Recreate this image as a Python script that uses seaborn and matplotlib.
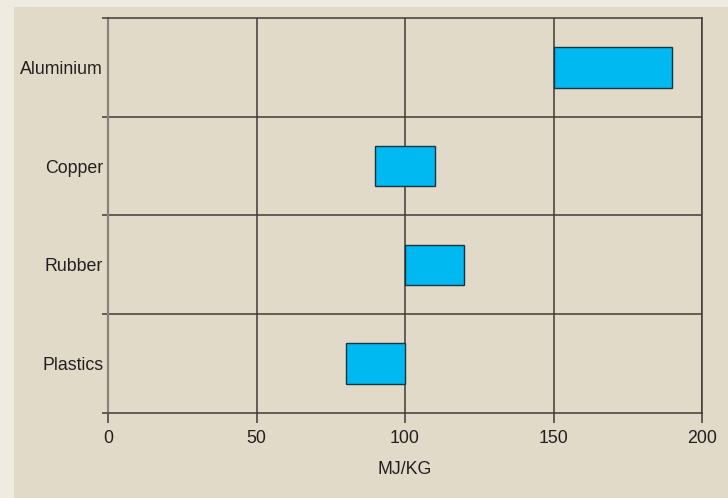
import matplotlib
matplotlib.use("Agg")
import matplotlib.pyplot as plt
from matplotlib.patches import Rectangle
from matplotlib.ticker import FixedLocator
import numpy as np
import pandas as pd
import seaborn as sns

# Energy range per material (MJ/kg)
materials = ["Aluminium", "Copper", "Rubber", "Plastics"]
range_low = [150, 90, 100, 80]
range_high = [190, 110, 120, 100]
x_ticks = [0, 50, 100, 150, 200]

sns.set_theme(style="white")
plt.rcParams["font.family"] = ["Liberation Sans", "DejaVu Sans"]

outer_bg = "#efebe1"
panel_bg = "#e1dac8"
line_col = "#3f3a36"
text_col = "#231f20"

df = pd.DataFrame({
    "material": materials,
    "low": range_low,
    "span": np.array(range_high) - np.array(range_low),
})

fig = plt.figure(figsize=(7.28, 4.98), dpi=100, facecolor=outer_bg)
fig.patches.append(Rectangle((14 / 728, 0), 1, (498 - 7) / 498,
                             transform=fig.transFigure, facecolor=panel_bg,
                             edgecolor="none", zorder=-10))
ax = fig.add_axes([108 / 728, 85 / 498, 594 / 728, 395 / 498])
ax.set_facecolor(panel_bg)

sns.barplot(data=df, x="span", y="material", orient="h", ax=ax,
            left=df["low"].values, color="#00b9f0", saturation=1,
            width=0.41, edgecolor="#1d3440", linewidth=1.0, zorder=3)

ax.set_xlim(0, 200)
ax.set_ylim(3.5, -0.5)
ax.xaxis.set_major_locator(FixedLocator(x_ticks))
ax.set_xticklabels([str(v) for v in x_ticks])

# Category labels centred in each band, ticks on band boundaries
ax.set_yticks(range(len(materials)))
ax.set_yticklabels(materials)
ax.yaxis.set_minor_locator(FixedLocator(np.arange(-0.5, len(materials), 1.0)))

ax.tick_params(axis="x", which="major", length=7, width=1.1, color=line_col,
               labelsize=12.8, labelcolor=text_col, pad=5, direction="out",
               bottom=True)
ax.tick_params(axis="y", which="major", length=0, labelsize=12.8,
               labelcolor=text_col, pad=3.5)
ax.tick_params(axis="y", which="minor", length=4, width=1.1, color=line_col,
               left=True)

for v in x_ticks[1:]:
    ax.axvline(v, color=line_col, lw=1.1, zorder=1)
for b in np.arange(0.5, len(materials) - 1, 1.0):
    ax.axhline(b, color=line_col, lw=1.1, zorder=1)

for side, sp in ax.spines.items():
    sp.set_visible(True)
    sp.set_color(line_col)
    sp.set_linewidth(1.1)
ax.spines["left"].set_color("#8a8279")
ax.spines["left"].set_linewidth(1.6)

ax.set_ylabel("")
ax.set_xlabel("MJ/KG", fontsize=12.8, color=text_col, labelpad=10)

fig.savefig("out.png", dpi=100, facecolor=outer_bg)
